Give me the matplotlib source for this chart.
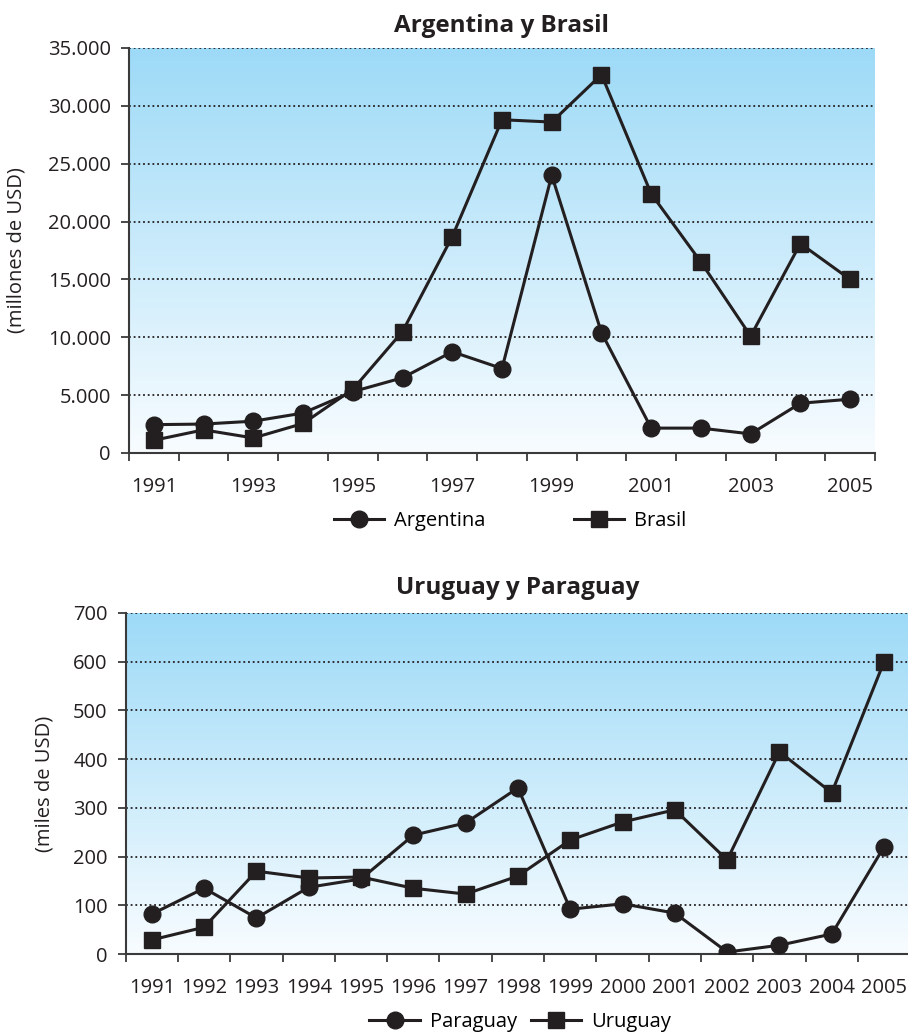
import numpy as np
import matplotlib.pyplot as plt
from matplotlib.colors import LinearSegmentedColormap

plt.rcParams["font.family"] = ["Open Sans", "DejaVu Sans"]

years = list(range(1991, 2006))

argentina = [2450, 2500, 2750, 3450, 5300, 6500, 8750, 7300, 24000, 10400,
             2150, 2150, 1650, 4300, 4650]
brasil = [1100, 2000, 1300, 2550, 5500, 10500, 18700, 28800, 28600, 32700,
          22400, 16500, 10100, 18100, 15000]

paraguay = [82, 135, 74, 137, 154, 244, 269, 341, 92, 103, 84, 4, 18, 41, 220]
uruguay = [29, 55, 170, 156, 158, 135, 123, 160, 234, 271, 296, 193, 415, 331, 600]

top_yticks = [0, 5000, 10000, 15000, 20000, 25000, 30000, 35000]
top_ylabels = ["0", "5.000", "10.000", "15.000", "20.000", "25.000", "30.000", "35.000"]
bot_yticks = [0, 100, 200, 300, 400, 500, 600, 700]

INK = "#231f20"
FS = 14.5
grad = LinearSegmentedColormap.from_list("sky", ["#f8fcff", "#9ddaf7"])


def style_axes(ax, yticks, ylabels, ylabel, title, label_step, ylab_x, title_pad):
    n = len(years)
    ax.set_xlim(-0.5, n - 0.5)
    ax.set_ylim(yticks[0], yticks[-1])
    g = np.linspace(0, 1, 256).reshape(-1, 1)
    ax.imshow(g, cmap=grad, origin="lower", extent=[0, 1, 0, 1],
              transform=ax.transAxes, aspect="auto", zorder=0)
    ax.set_yticks(yticks)
    ax.set_yticklabels(ylabels, fontsize=FS, color=INK)
    ax.yaxis.grid(True, linestyle=(0, (1, 1.6)), color=INK, linewidth=1.3, zorder=1)
    ax.set_axisbelow(True)
    # category boundaries as tick marks, labels at centres
    ax.set_xticks(np.arange(-0.5, n, 1.0))
    ax.set_xticklabels([])
    centres = np.arange(0, n, label_step)
    ax.set_xticks(centres, minor=True)
    ax.set_xticklabels([str(years[i]) for i in centres], minor=True,
                       fontsize=FS, color=INK)
    ax.tick_params(axis="x", which="major", length=6, width=1.3, color="#3a3a3a")
    ax.tick_params(axis="x", which="minor", length=0, pad=17)
    ax.tick_params(axis="y", length=6, width=1.3, color="#3a3a3a", pad=7)
    for s in ["top", "right"]:
        ax.spines[s].set_visible(False)
    for s in ["left", "bottom"]:
        ax.spines[s].set_color("#3a3a3a")
        ax.spines[s].set_linewidth(1.5)
    ax.set_ylabel(ylabel, fontsize=FS, color=INK)
    ax.yaxis.set_label_coords(ylab_x, 0.5)
    ax.set_title(title, fontsize=17.5, fontweight="bold", color=INK, pad=title_pad)


fig = plt.figure(figsize=(9.08, 10.36), dpi=100)
x = np.arange(len(years))

ax1 = fig.add_axes([129 / 908, 1 - 453 / 1036, 746 / 908, 405 / 1036])
ax1.plot(x, argentina, color=INK, lw=2.2, marker="o", ms=12, label="Argentina", zorder=3)
ax1.plot(x, brasil, color=INK, lw=2.2, marker="s", ms=12, label="Brasil", zorder=3)
style_axes(ax1, top_yticks, top_ylabels, "(millones de USD)", "Argentina y Brasil", 2,
           -0.137, 11.5)
ax1.legend(loc="center", bbox_to_anchor=(0.511, -0.168), ncol=2, frameon=False,
           fontsize=FS, columnspacing=4.4, handlelength=2.5, handletextpad=0.5)

ax2 = fig.add_axes([125.7 / 908, 1 - 954 / 1036, 784.5 / 908, 341 / 1036])
ax2.plot(x, paraguay, color=INK, lw=2.2, marker="o", ms=12, label="Paraguay", zorder=3)
ax2.plot(x, uruguay, color=INK, lw=2.2, marker="s", ms=12, label="Uruguay", zorder=3)
style_axes(ax2, bot_yticks, [str(v) for v in bot_yticks], "(miles de USD)",
           "Uruguay y Paraguay", 1, -0.091, 14)
ax2.legend(loc="center", bbox_to_anchor=(0.503, -0.199), ncol=2, frameon=False,
           fontsize=FS, columnspacing=0.7, handlelength=2.5, handletextpad=0.5)

fig.savefig("out.png", dpi=100)
